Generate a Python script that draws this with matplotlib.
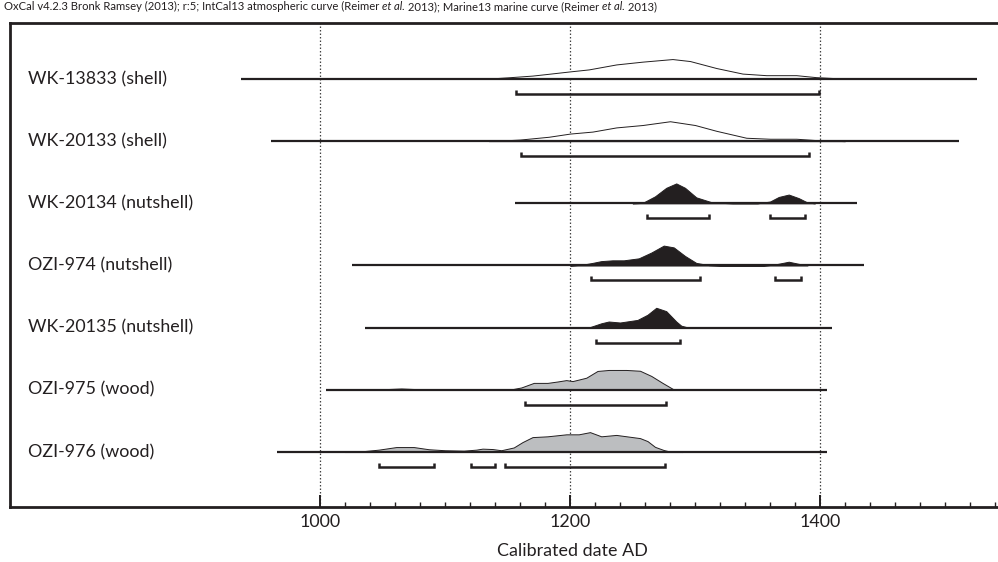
import numpy as np
import matplotlib.pyplot as plt

# sample names and material
labels = ["WK-13833 (shell)", "WK-20133 (shell)", "WK-20134 (nutshell)",
          "OZI-974 (nutshell)", "WK-20135 (nutshell)", "OZI-975 (wood)", "OZI-976 (wood)"]
materials = ["shell", "shell", "nutshell", "nutshell", "nutshell", "wood", "wood"]

# extent of each calibrated date line (AD)
line_start = [937, 961, 1156, 1026, 1036, 1005, 966]
line_end = [1526, 1511, 1430, 1435, 1410, 1406, 1406]

# probability distributions (relative to peak)
years_1 = [1130, 1150, 1170, 1183, 1200, 1215, 1237, 1258, 1282, 1296, 1317, 1338, 1357, 1381, 1397, 1419, 1430]
prob_1 = [0, .08, .17, .26, .38, .48, .73, .87, 1, .9, .55, .27, .19, .19, .09, .02, 0]
years_2 = [1135, 1160, 1183, 1200, 1218, 1237, 1258, 1280, 1300, 1317, 1341, 1360, 1381, 1400, 1420]
prob_2 = [0, .08, .22, .38, .48, .69, .81, 1, .81, .52, .17, .12, .12, .04, 0]
years_3 = [1250, 1258, 1268, 1277, 1285, 1292, 1301, 1314, 1330, 1350, 1360, 1367, 1375, 1383, 1390, 1396]
prob_3 = [0, .02, .35, .78, 1, .78, .3, .04, 0, 0, .09, .32, .44, .26, .04, 0]
years_4 = [1200, 1210, 1218, 1225, 1234, 1243, 1255, 1265, 1275, 1283, 1292, 1301, 1311, 1320, 1355, 1363, 1375, 1384, 1390]
prob_4 = [0, .04, .13, .22, .26, .26, .36, .65, 1, .91, .48, .13, .02, 0, 0, .04, .19, .07, 0]
years_5 = [1210, 1216, 1225, 1231, 1240, 1254, 1262, 1269, 1277, 1285, 1289, 1295]
prob_5 = [0, .03, .22, .31, .26, .39, .65, 1, .83, .31, .1, 0]
years_6 = [1040, 1050, 1065, 1080, 1090, 1151, 1161, 1171, 1182, 1190, 1197, 1202, 1213, 1222, 1231, 1245, 1256, 1265, 1274, 1283, 1290]
prob_6 = [0, .03, .07, .03, 0, 0, .12, .35, .35, .42, .49, .44, .61, .95, 1, 1, .96, .7, .35, .02, 0]
years_7 = [1020, 1029, 1047, 1061, 1075, 1087, 1100, 1115, 1125, 1130, 1138, 1145, 1155, 1162, 1170, 1182,
           1197, 1207, 1216, 1225, 1237, 1256, 1262, 1268, 1275, 1281, 1290]
prob_7 = [0, .01, .12, .25, .25, .14, .09, .07, .12, .17, .15, .09, .23, .5, .75, .79,
          .89, .89, 1, .79, .86, .7, .55, .26, .1, .01, 0]
dist_years = [years_1, years_2, years_3, years_4, years_5, years_6, years_7]
dist_probs = [prob_1, prob_2, prob_3, prob_4, prob_5, prob_6, prob_7]

# 95.4% ranges
ranges = [
    [(1157, 1399)],
    [(1161, 1391)],
    [(1262, 1311), (1360, 1388)],
    [(1217, 1304), (1364, 1385)],
    [(1221, 1288)],
    [(1164, 1277)],
    [(1047, 1091), (1121, 1140), (1148, 1276)],
]

grid_years = [1000, 1200, 1400]

ink = "#231f20"
fills = {"shell": "white", "nutshell": ink, "wood": "#bcbec0"}

plt.rcParams['font.family'] = ['Lato', 'DejaVu Sans']

W, H = 998, 562
fig = plt.figure(figsize=(W / 100, H / 100), dpi=100)
ax = fig.add_axes([10 / W, (H - 507) / H, (W - 10) / W, (507 - 23) / H])

ax.set_xlim(752, 1542.4)
ax.set_ylim(6.884, -0.90)

peak = 0.32
bar_off = 0.24
cap = 0.065

for g in grid_years:
    ax.axvline(g, color="#444444", lw=0.9, ls=(0, (1.2, 1.6)), zorder=0)

for i in range(len(labels)):
    ax.text(766, i, labels[i], fontsize=12.9, va="center", ha="left", color=ink)
    yrs = np.array(dist_years[i])
    pr = np.array(dist_probs[i])
    ax.fill_between(yrs, i, i - pr * peak, facecolor=fills[materials[i]],
                    edgecolor=ink, lw=0.7, zorder=2)
    ax.plot([line_start[i], line_end[i]], [i, i], color=ink, lw=1.6, zorder=3,
            solid_capstyle="butt")
    for a, b in ranges[i]:
        yb = i + bar_off
        ax.plot([a, a, b, b], [yb - cap, yb, yb, yb - cap], color=ink, lw=1.8,
                zorder=3, solid_joinstyle="miter", solid_capstyle="butt")

for s in ["left", "top", "bottom"]:
    ax.spines[s].set_linewidth(2)
    ax.spines[s].set_color(ink)
ax.spines["right"].set_visible(False)

ax.set_yticks([])
ax.set_xticks(grid_years)
ax.set_xticks(np.arange(1020, 1541, 20), minor=True)
ax.tick_params(axis="x", which="major", direction="in", length=8.6, width=1.4,
               color=ink, labelsize=12.9, pad=5, labelcolor=ink)
ax.tick_params(axis="x", which="minor", direction="in", length=3.6, width=1.0, color=ink)

fig.text(572 / W, 1 - 551 / H, "Calibrated date AD", fontsize=12.9, ha="center",
         va="center", color=ink)

# header line, "et al." in italics
pieces = [("OxCal v4.2.3 Bronk Ramsey (2013); r:5; IntCal13 atmospheric curve (Reimer ", "normal"),
          ("et al.", "italic"),
          (" 2013); Marine13 marine curve (Reimer ", "normal"),
          ("et al.", "italic"),
          (" 2013)", "normal")]
prev = fig.text(4 / W, 1 - 12.5 / H, pieces[0][0], fontsize=8.1, ha="left", va="bottom",
                color=ink, style=pieces[0][1])
for txt, st in pieces[1:]:
    prev = ax.annotate(txt, xy=(1, 0), xycoords=prev, ha="left", va="bottom",
                       fontsize=8.1, color=ink, style=st, annotation_clip=False)

fig.savefig("out.png", dpi=100)
